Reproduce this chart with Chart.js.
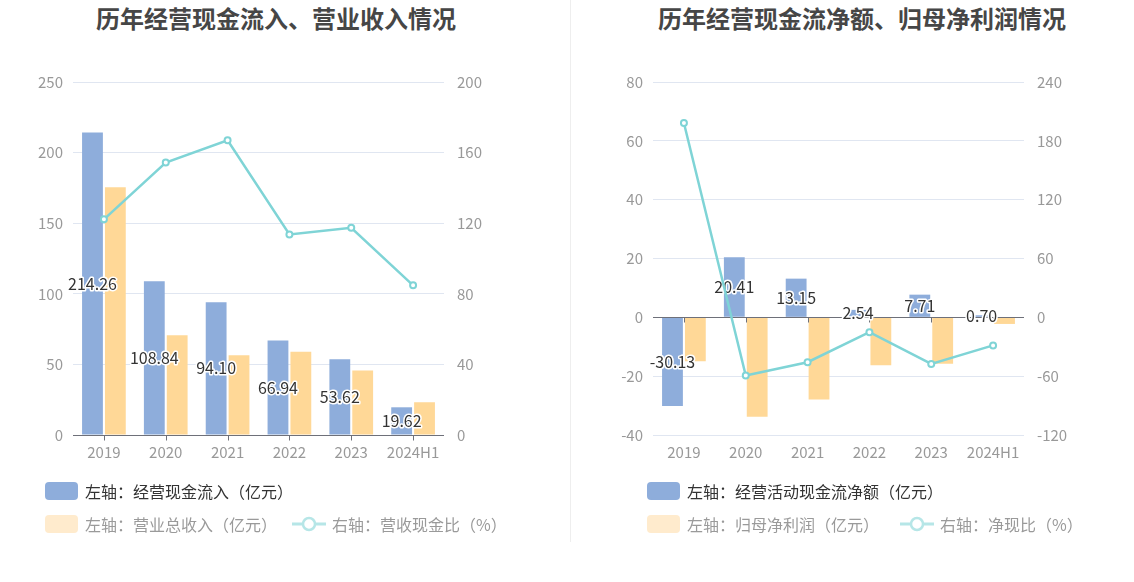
<!DOCTYPE html>
<html><head><meta charset="utf-8">
<script src="https://cdn.jsdelivr.net/npm/chart.js@4.4.1/dist/chart.umd.min.js"></script>
<style>
html,body{margin:0;padding:0;background:#fff;}
body{width:1134px;height:582px;position:relative;overflow:hidden;font-family:"Noto Sans CJK SC","Noto Sans",sans-serif;}
.title{position:absolute;top:0px;font-size:24px;font-weight:bold;color:#464646;text-align:center;white-space:nowrap;}
.cv{position:absolute;top:60px;}
.divider{position:absolute;left:570px;top:0;width:1px;height:542px;background:#eeeeee;}
.leg{position:absolute;font-size:16px;white-space:nowrap;display:flex;align-items:center;}
.box{display:inline-block;width:33px;height:18px;border-radius:4px;margin-right:7px;}
.leg svg{margin-right:6px;}
</style></head>
<body>
<div class="title" style="left:76px;width:400px;">历年经营现金流入、营业收入情况</div>
<div class="title" style="left:658px;width:400px;">历年经营现金流净额、归母净利润情况</div>
<div class="divider"></div>
<canvas id="c1" class="cv" style="left:0px;" width="570" height="420"></canvas>
<canvas id="c2" class="cv" style="left:570px;" width="564" height="420"></canvas>

<div class="leg" style="left:45px;top:479px;color:#333;"><span class="box" style="background:#8EADDB"></span>左轴：经营现金流入（亿元）</div>
<div class="leg" style="left:45px;top:512px;color:#9a9a9a;"><span class="box" style="background:#FFEBCD"></span>左轴：营业总收入（亿元）</div>
<div class="leg" style="left:292px;top:512px;color:#9a9a9a;"><svg width="34" height="18"><line x1="0" y1="9" x2="34" y2="9" stroke="#B6E6E7" stroke-width="3"/><circle cx="17" cy="9" r="6" fill="#fff" stroke="#B6E6E7" stroke-width="2.5"/></svg>右轴：营收现金比（%）</div>

<div class="leg" style="left:647px;top:479px;color:#333;"><span class="box" style="background:#8EADDB"></span>左轴：经营活动现金流净额（亿元）</div>
<div class="leg" style="left:647px;top:512px;color:#9a9a9a;"><span class="box" style="background:#FFEBCD"></span>左轴：归母净利润（亿元）</div>
<div class="leg" style="left:900px;top:512px;color:#9a9a9a;"><svg width="34" height="18"><line x1="0" y1="9" x2="34" y2="9" stroke="#B6E6E7" stroke-width="3"/><circle cx="17" cy="9" r="6" fill="#fff" stroke="#B6E6E7" stroke-width="2.5"/></svg>右轴：净现比（%）</div>

<script>
// ---- data ----
const categories = ['2019','2020','2021','2022','2023','2024H1'];
// left chart
const cashInflow = [214.26, 108.84, 94.10, 66.94, 53.62, 19.62];
const totalRevenue = [175.4, 70.6, 56.5, 58.9, 45.7, 23.2];
const cashRevenueRatio = [122.2, 154.4, 167.0, 113.6, 117.4, 84.8];
// right chart
const netOpCash = [-30.13, 20.41, 13.15, 2.54, 7.71, 0.70];
const netProfit = [-14.95, -33.8, -27.9, -16.3, -15.8, -2.25];
const netCashRatio = [198.2, -59.3, -45.8, -15.2, -47.5, -28.6];
// axis ticks
const leftY1 = {min:0, max:250, step:50};
const leftY2 = {min:0, max:200, step:40};
const rightY1 = {min:-40, max:80, step:20};
const rightY2 = {min:-120, max:240, step:60};

const BLUE='#8EADDB', ORANGE='#FFD897', TEAL='#7FD4D6';
const FONT='"Noto Sans CJK SC","Noto Sans",sans-serif';
const TICKCOL='#999999', GRIDCOL='#E0E6F1', AXISCOL='#6E7079';

const decor = {
  id:'decor',
  beforeDatasetDraw(chart, args){
    if (chart.data.datasets[args.index].type !== 'line') return;
    const ctx = chart.ctx, x = chart.scales.x, y = chart.scales.y;
    const ca = chart.chartArea;
    const y0 = Math.round(y.getPixelForValue(0)) + 0.5;
    ctx.save();
    ctx.strokeStyle = AXISCOL; ctx.lineWidth = 1;
    ctx.beginPath(); ctx.moveTo(ca.left, y0); ctx.lineTo(ca.right, y0); ctx.stroke();
    categories.forEach((c,i)=>{
      const px = Math.round(x.getPixelForValue(i)) + 0.5;
      ctx.beginPath(); ctx.moveTo(px, y0); ctx.lineTo(px, y0+5); ctx.stroke();
    });
    const meta = chart.getDatasetMeta(0);
    const vals = chart.data.datasets[0].data;
    ctx.font = '16px ' + FONT;
    ctx.textAlign = 'center'; ctx.textBaseline = 'middle';
    ctx.lineJoin = 'round';
    meta.data.forEach((bar,i)=>{
      const p = bar.getProps(['x','y','base'], true);
      const ty = (p.y + p.base)/2;
      const t = vals[i].toFixed(2);
      ctx.strokeStyle = '#fff'; ctx.lineWidth = 3;
      ctx.strokeText(t, p.x, ty);
      ctx.fillStyle = '#333'; ctx.fillText(t, p.x, ty);
    });
    ctx.restore();
  }
};

function makeChart(id, barA, barB, line, yl, yr, leftW, rightW){
  return new Chart(document.getElementById(id), {
    data:{
      labels: categories,
      datasets:[
        {type:'bar', data:barA, backgroundColor:BLUE, yAxisID:'y', order:1,
          barPercentage:0.91, categoryPercentage:0.74},
        {type:'bar', data:barB, backgroundColor:ORANGE, yAxisID:'y', order:1,
          barPercentage:0.91, categoryPercentage:0.74},
        {type:'line', data:line, borderColor:TEAL, borderWidth:2.5, yAxisID:'y1', order:0,
          pointRadius:3, pointBorderWidth:2, pointBackgroundColor:'#fff', pointBorderColor:TEAL,
          tension:0}
      ]
    },
    options:{
      responsive:false, animation:false, devicePixelRatio:1,
      layout:{padding:{top:19, bottom:0, left:0, right:0}},
      plugins:{legend:{display:false}, tooltip:{enabled:false}},
      scales:{
        x:{grid:{display:false, drawTicks:false}, border:{display:false},
           ticks:{color:TICKCOL, font:{size:15, family:FONT}, padding:8, maxRotation:0, autoSkip:false},
           afterFit(s){ s.height = 45; }},
        y:{position:'left', min:yl.min, max:yl.max, border:{display:false},
           grid:{color:(c)=> c.tick && c.tick.value===0 ? 'rgba(0,0,0,0)' : GRIDCOL, drawTicks:false, lineWidth:1},
           ticks:{stepSize:yl.step, color:TICKCOL, font:{size:15, family:FONT}, padding:10},
           afterFit(s){ s.width = leftW; }},
        y1:{position:'right', min:yr.min, max:yr.max, border:{display:false},
           grid:{drawOnChartArea:false, drawTicks:false},
           ticks:{stepSize:yr.step, color:TICKCOL, font:{size:15, family:FONT}, padding:13},
           afterFit(s){ s.width = rightW; }}
      }
    },
    plugins:[decor]
  });
}

makeChart('c1', cashInflow, totalRevenue, cashRevenueRatio, leftY1, leftY2, 73, 126);
makeChart('c2', netOpCash, netProfit, netCashRatio, rightY1, rightY2, 83, 110);
</script>
</body></html>
